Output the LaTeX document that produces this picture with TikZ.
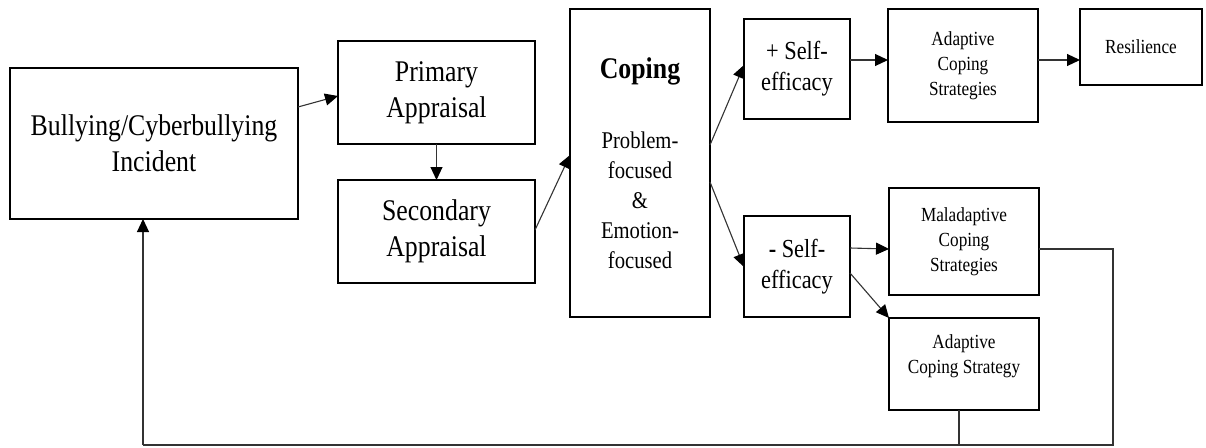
\documentclass[tikz,border=0pt]{standalone}
\usepackage{fontspec}
\setmainfont[FakeStretch=0.86]{Liberation Serif}
\usetikzlibrary{arrows.meta}
\begin{document}
\begin{tikzpicture}[x=1pt,y=-1pt,
  box/.style={draw=black, line width=2.6pt, inner sep=0pt, outer sep=0pt, align=center},
  bigtxt/.style={font=\fontsize{30}{36}\selectfont},
  midtxt/.style={font=\fontsize{26}{31}\selectfont},
  copetxt/.style={font=\fontsize{24}{30}\selectfont},
  smalltxt/.style={font=\fontsize{20}{25}\selectfont},
  conn/.style={draw=black!80, line width=1.1pt},
  arr/.style={conn, -{Triangle[length=13pt,width=12pt,color=black]}}
]
\useasboundingbox (0,0) rectangle (1206,447);

\node[box,bigtxt,minimum width=288pt,minimum height=151pt] (bully) at (154,143.5) {Bullying/Cyberbullying\\Incident};
\node[box,bigtxt,minimum width=197pt,minimum height=103pt] (prim) at (436.5,92.5) {Primary\\Appraisal};
\node[box,bigtxt,minimum width=197pt,minimum height=103pt] (sec) at (436.5,231.5) {Secondary\\Appraisal};
\node[box,copetxt,minimum width=140pt,minimum height=308pt] (cope) at (640,163) {{\bfseries\fontsize{30}{30}\selectfont Coping}\\[40pt]Problem-\\focused\\\&\\Emotion-\\focused};
\node[box,midtxt,minimum width=106pt,minimum height=100pt] (pse) at (797,69) {+ Self-\\efficacy};
\node[box,midtxt,minimum width=106pt,minimum height=101pt] (nse) at (797,266.5) {{\bfseries -} Self-\\efficacy};
\node[box,smalltxt,minimum width=150pt,minimum height=113pt] (acs) at (963,65.5) {Adaptive\\Coping\\Strategies};
\node[box,smalltxt,minimum width=122pt,minimum height=76pt] (res) at (1141,47) {Resilience};
\node[box,smalltxt,minimum width=150pt,minimum height=107pt] (mal) at (964,241.5) {Maladaptive\\Coping\\Strategies};
\node[box,minimum width=150pt,minimum height=92pt] (acst) at (964,364) {};
\node[smalltxt,align=center,inner sep=0pt] (acsttext) at ([yshift=8pt]acst.center) {Adaptive\\Coping Strategy};

\draw[arr] (bully.east |- 0,107) -- (prim.west |- 0,96);
\draw[arr] (prim.south) -- (sec.north);
\draw[arr] (sec.east |- 0,230) -- (cope.west |- 0,155);
\draw[arr] (cope.east |- 0,145) -- (pse.west |- 0,65);
\draw[arr] (cope.east |- 0,182) -- (nse.west |- 0,267);
\draw[arr] (pse.east |- 0,60) -- (acs.west |- 0,60);
\draw[arr] (acs.east |- 0,60) -- (res.west |- 0,60);
\draw[arr] (nse.east |- 0,248) -- (mal.west |- 0,249);
\draw[arr] (nse.east |- 0,273) -- (acst.north west);

\coordinate (fbR) at (1113,445);
\coordinate (fbL) at (143,445);
\coordinate (acstbot) at (acst.south -| 959,0);
\draw[conn] (mal.east |- 0,249) -| (fbR) -- (fbL);
\draw[arr] (fbL) -- (bully.south -| fbL);
\draw[conn] (acstbot) -- (acstbot |- fbL);
\end{tikzpicture}
\end{document}
